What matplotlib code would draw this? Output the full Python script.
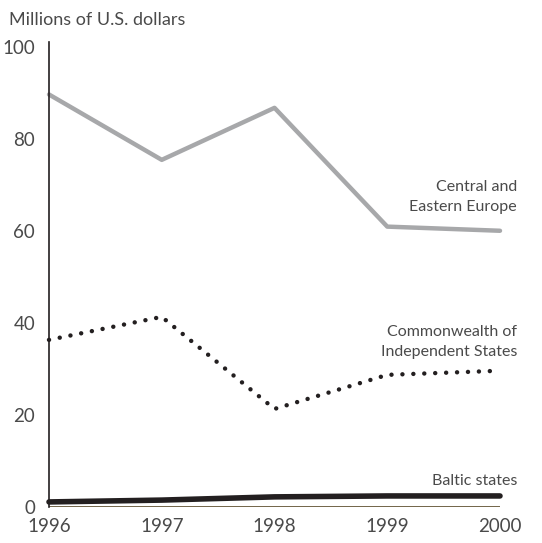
import numpy as np
import matplotlib.pyplot as plt

plt.rcParams['font.family'] = ['Lato', 'DejaVu Sans']

years = [1996, 1997, 1998, 1999, 2000]
central_eastern = [89.6, 75.4, 86.7, 60.9, 60.0]
cis = [36.3, 41.3, 21.3, 28.7, 29.6]
baltic = [1.1, 1.5, 2.2, 2.4, 2.4]

txt = "#4a4a4a"

fig = plt.figure(figsize=(5.42, 5.43), dpi=100)
ax = fig.add_axes([49 / 542, 36 / 543, 451 / 542, 465 / 543])

ax.plot(years, central_eastern, color="#a7a8aa", lw=3.2, solid_capstyle="round",
        solid_joinstyle="round", clip_on=False)
ax.plot(years, cis, color="#231f20", lw=3.2, linestyle=(0, (0.01, 2.45)),
        dash_capstyle="round", clip_on=False)
ax.plot(years, baltic, color="#231f20", lw=4, solid_capstyle="round", clip_on=False)
ax.axhline(0, color="#5a4a2a", lw=1.2)

ax.set_xlim(1996, 2000)
ax.set_ylim(0, 101)
ax.set_yticks([0, 20, 40, 60, 80, 100])
ax.set_xticks(years)
ax.set_xticklabels([str(y) for y in years])

for s in ["top", "right", "bottom"]:
    ax.spines[s].set_visible(False)
ax.spines["left"].set_linewidth(1.2)
ax.spines["left"].set_color("#231f20")
ax.tick_params(length=0, labelsize=13.5, colors=txt, pad=10)
ax.tick_params(axis="x", pad=8)

fig.text(9 / 542, 1 - 20 / 543, "Millions of U.S. dollars", fontsize=13,
         color=txt, va="center", ha="left")

lab = dict(ha="right", va="center", fontsize=11.5, color=txt, linespacing=1.55,
           transform=fig.transFigure)
fig.text(517 / 542, 1 - 197 / 543, "Central and\nEastern Europe", **lab)
fig.text(517 / 542, 1 - 342 / 543, "Commonwealth of\nIndependent States", **lab)
fig.text(517 / 542, 1 - 481 / 543, "Baltic states", **lab)

fig.savefig("out.png", dpi=100)
